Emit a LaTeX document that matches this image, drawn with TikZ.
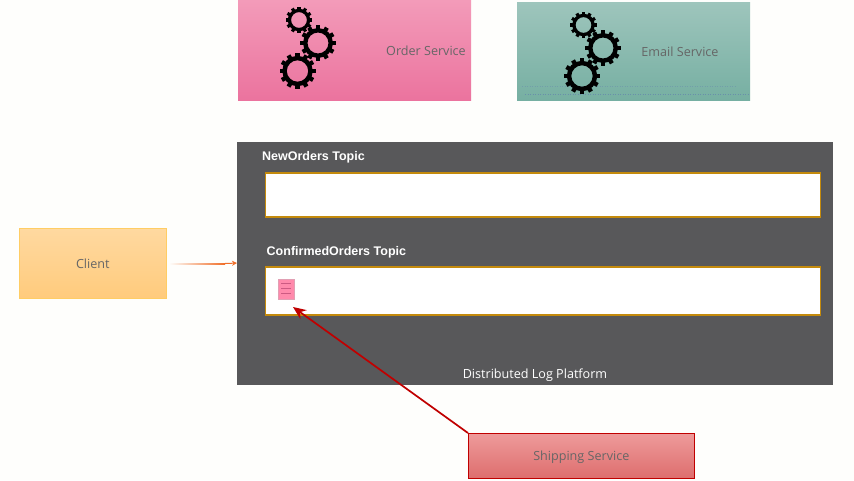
\documentclass[tikz,border=0pt]{standalone}
\usepackage{fontspec}
\usetikzlibrary{arrows.meta}
\setmainfont{Open Sans}
\newfontfamily\arialfont{Liberation Sans}
\definecolor{bgc}{HTML}{FEFEFC}
\definecolor{platc}{HTML}{58585A}
\definecolor{topicb}{HTML}{C48A0C}
\definecolor{txt}{HTML}{666666}
\definecolor{redc}{HTML}{C00000}
\definecolor{ordertop}{RGB}{243,155,185}
\definecolor{orderbot}{RGB}{235,115,158}
\definecolor{emailtop}{RGB}{158,197,188}
\definecolor{emailbot}{RGB}{118,175,162}
\definecolor{docfill}{RGB}{255,138,172}
\definecolor{docedge}{RGB}{225,160,180}
\definecolor{docline}{RGB}{205,90,130}
\definecolor{clienttop}{RGB}{255,217,160}
\definecolor{clientbot}{RGB}{255,203,125}
\definecolor{clientedge}{RGB}{255,205,100}
\definecolor{shiptop}{RGB}{238,155,155}
\definecolor{shipbot}{RGB}{222,110,110}
\definecolor{arrowor}{RGB}{240,110,40}
\tikzset{
  x=1pt,y=1pt,
  svc/.style={draw=none,inner sep=0,anchor=north west},
  bodytext/.style={inner sep=0,font=\fontsize{12.6}{15}\selectfont},
  topicbox/.style={draw=topicb,line width=1.2pt,fill=white,inner sep=0,anchor=north west},
  topiclabel/.style={anchor=west,text=white,inner sep=0,font=\arialfont\bfseries\fontsize{12.5}{14}\selectfont},
  pics/cog/.style={code={
    \foreach \a in {0,30,...,330}{
      \draw[black,line width=#1*0.24pt,rotate=\a] (#1*0.72,0) -- (#1,0);
    }
    \draw[black,line width=#1*0.25pt] (0,0) circle[radius=#1*0.72];
  }}
}
\begin{document}
\begin{tikzpicture}
\useasboundingbox (0,0) rectangle (854,-480);
\fill[bgc] (0,0) rectangle (854,-480);
% service boxes
\node[svc,minimum width=233,minimum height=100.5,top color=ordertop,bottom color=orderbot] (order) at (238,0) {};
\node[svc,minimum width=233,minimum height=98.5,top color=emailtop,bottom color=emailbot] (email) at (517,-2) {};
\draw[dotted,line width=.5pt,blue!45!gray,opacity=.3] (525,-94) -- (748,-94);
\draw[dotted,line width=.5pt,blue!45!gray,opacity=.18] (522,-86) -- (735,-86);
\node[bodytext,text=txt] (orderlabel) at (426,-50.5) {Order Service};
\node[bodytext,text=txt] (emaillabel) at (680,-51.7) {Email Service};
% gears
\pic at (299,-20) {cog=13.3};
\pic at (318,-43) {cog=17.7};
\pic at (297.5,-71) {cog=18};
\pic at (583.5,-25) {cog=13.3};
\pic at (603,-48) {cog=17.7};
\pic at (582,-76) {cog=18};
% platform
\node[svc,minimum width=596,minimum height=243,fill=platc] (platform) at (237,-142) {};
\node[topiclabel] (t1) at (262,-157.5) {NewOrders Topic};
\node[topicbox,minimum width=555,minimum height=44] (newtopic) at (265,-172.3) {};
\node[topiclabel] (t2) at (266.5,-252.5) {ConfirmedOrders Topic};
\node[topicbox,minimum width=555,minimum height=48] (conftopic) at (265,-266.3) {};
\node[bodytext,text=white] (platlabel) at (535,-375) {Distributed Log Platform};
% doc
\node[svc,minimum width=15.5,minimum height=20,fill=docfill,draw=docedge,line width=.4pt] (doc) at (278,-279) {};
\foreach \y in {-283.5,-288.5,-293.5}
  \draw[docline,line width=.6pt] (281,\y) -- (291,\y);
% client
\node[svc,bodytext,anchor=north west,minimum width=147,minimum height=69.5,top color=clienttop,bottom color=clientbot,draw=clientedge,line width=.6pt,text=txt] (client) at (19,-228) {\raisebox{-5.5pt}[0pt][0pt]{Client}};
% shipping
\node[svc,bodytext,anchor=north west,minimum width=226,minimum height=44.5,top color=shiptop,bottom color=shipbot,draw=redc,line width=.6pt,text=txt] (shipping) at (468,-433) {\raisebox{-5pt}[0pt][0pt]{Shipping Service}};
% connectors
\shade[left color=bgc,right color=arrowor] (169,-263) rectangle (225,-264);
\coordinate (tiphead) at (client.east -| platform.west);
\draw[arrowor,line width=1pt,-{Stealth[length=5pt,width=5pt]}] (225,-263.5) -- (tiphead);
\coordinate (shiptip) at (293,-307);
\draw[redc,line width=1.7pt,-{Stealth[length=13pt,width=11pt]}] (shipping.north west) -- (shiptip);
\end{tikzpicture}
\end{document}
